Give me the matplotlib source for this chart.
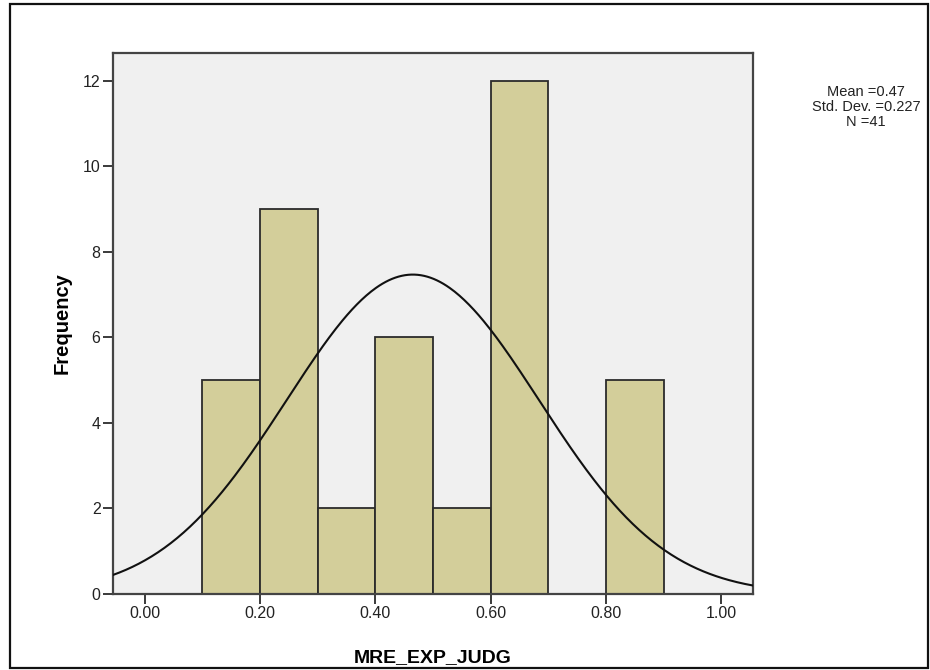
import numpy as np
import matplotlib
matplotlib.use("Agg")
from matplotlib import pyplot as plt
from matplotlib.patches import Rectangle

plt.rcParams['font.family'] = ['Liberation Sans', 'DejaVu Sans']

# histogram data
bin_edges = [0.1, 0.2, 0.3, 0.4, 0.5, 0.6, 0.7, 0.8, 0.9]
counts = [5, 9, 2, 6, 2, 12, 0, 5]

# normal curve as drawn by SPSS
curve_mean = 0.465
curve_sd = 0.219
n_obs = 41
bin_width = 0.1

stats_lines = ["Mean =0.47", "Std. Dev. =0.227", "N =41"]
x_ticks = [0.0, 0.2, 0.4, 0.6, 0.8, 1.0]
x_tick_labels = ["0.00", "0.20", "0.40", "0.60", "0.80", "1.00"]
y_ticks = [0, 2, 4, 6, 8, 10, 12]

BG = "#f0f0f0"
BAR = "#d3ce9a"
EDGE = "#2b2b2b"

fig = plt.figure(figsize=(9.3, 6.7), dpi=100)
ax = fig.add_axes([113/930, 76/670, 640/930, 541/670])
ax.set_facecolor(BG)

lefts = np.array(bin_edges[:-1])
ax.bar(lefts, counts, width=np.diff(bin_edges), align="edge",
       color=BAR, edgecolor=EDGE, linewidth=1.3, zorder=2)

xs = np.linspace(-0.055, 1.055, 400)
ys = n_obs * bin_width / (curve_sd * np.sqrt(2 * np.pi)) * np.exp(-0.5 * ((xs - curve_mean) / curve_sd) ** 2)
ax.plot(xs, ys, color="#111111", linewidth=1.5, zorder=3)

ax.set_xlim(-0.055, 1.055)
ax.set_ylim(0, 12.65)
ax.set_xticks(x_ticks)
ax.set_xticklabels(x_tick_labels)
ax.set_yticks(y_ticks)
ax.tick_params(axis="both", direction="out", length=7, width=1.3, color=EDGE,
               labelsize=11.5, pad=2, labelcolor="#222222")
for s in ax.spines.values():
    s.set_color("#444444")
    s.set_linewidth(1.6)

ax.set_xlabel("MRE_EXP_JUDG", fontsize=14, fontweight="bold", labelpad=20)
ax.set_ylabel("Frequency", fontsize=14.5, fontweight="bold", labelpad=8)

fig.text(866/930, 1 - 107/670, "\n".join(stats_lines), ha="center", va="center",
         fontsize=10.5, linespacing=1.1, color="#222222")

fig.patches.append(Rectangle((10/930, 2/670), 918/930, 664/670, transform=fig.transFigure,
                             fill=False, edgecolor="#111111", linewidth=1.6))

fig.savefig("out.png", dpi=100)
